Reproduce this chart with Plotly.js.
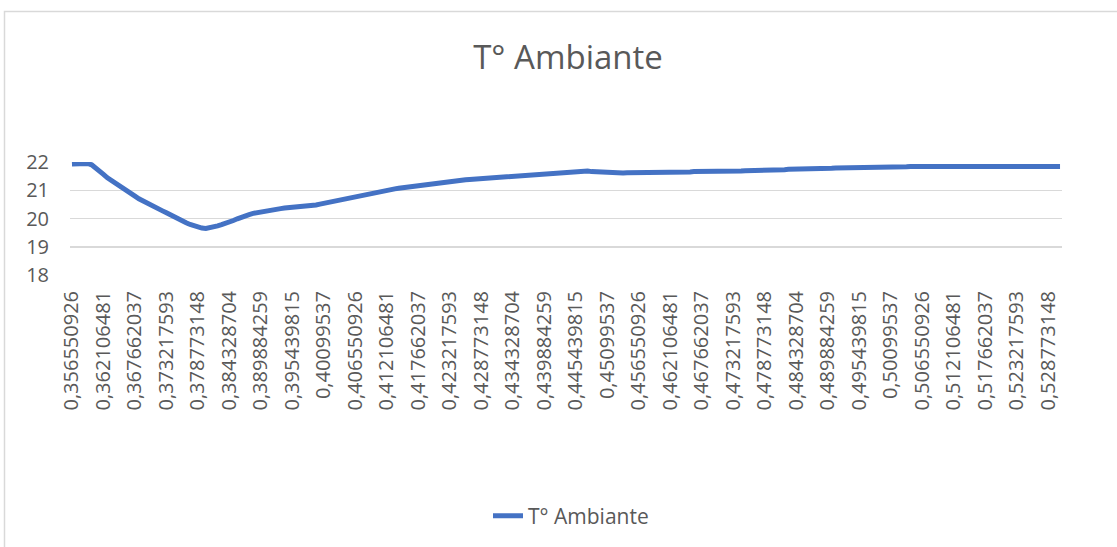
<!DOCTYPE html>
<html>
<head>
<meta charset="utf-8">
<script src="https://cdn.plot.ly/plotly-3.0.1.min.js"></script>
<style>
  html, body { margin: 0; padding: 0; background: #ffffff; }
  #chart { width: 1117px; height: 547px; }
</style>
</head>
<body>
<div id="chart"></div>
<script>
// Category tick labels (every 8th time stamp, day fraction)
const tickLabels = [
  "0,356550926", "0,362106481", "0,367662037", "0,373217593", "0,378773148",
  "0,384328704", "0,389884259", "0,395439815", "0,40099537", "0,406550926",
  "0,412106481", "0,417662037", "0,423217593", "0,428773148", "0,434328704",
  "0,439884259", "0,445439815", "0,45099537", "0,456550926", "0,462106481",
  "0,467662037", "0,473217593", "0,478773148", "0,484328704", "0,489884259",
  "0,495439815", "0,50099537", "0,506550926", "0,512106481", "0,517662037",
  "0,523217593", "0,528773148"
];
const labelEvery = 8;

// Series: T° Ambiante (one value per category)
const seriesName = "T° Ambiante";
const tAmbiante = [
  21.93, 21.93, 21.93, 21.94, 21.95, 21.90, 21.80, 21.68, 21.56, 21.44,
  21.34, 21.24, 21.15, 21.06, 20.97, 20.88, 20.79, 20.70, 20.62, 20.55,
  20.48, 20.41, 20.34, 20.27, 20.20, 20.12, 20.04, 19.97, 19.91, 19.85,
  19.79, 19.74, 19.69, 19.66, 19.65, 19.67, 19.70, 19.74, 19.78, 19.82,
  19.87, 19.93, 19.99, 20.05, 20.10, 20.14, 20.18, 20.21, 20.24, 20.27,
  20.29, 20.31, 20.33, 20.35, 20.37, 20.38, 20.39, 20.41, 20.42, 20.43,
  20.45, 20.46, 20.48, 20.51, 20.54, 20.57, 20.60, 20.63, 20.66, 20.69,
  20.72, 20.75, 20.78, 20.81, 20.84, 20.87, 20.90, 20.94, 20.97, 20.99,
  21.01, 21.03, 21.05, 21.07, 21.09, 21.11, 21.13, 21.15, 21.17, 21.19,
  21.21, 21.22, 21.24, 21.26, 21.28, 21.30, 21.31, 21.33, 21.34, 21.35,
  21.37, 21.38, 21.39, 21.41, 21.42, 21.43, 21.44, 21.45, 21.46, 21.47,
  21.48, 21.50, 21.51, 21.52, 21.53, 21.54, 21.55, 21.56, 21.57, 21.58,
  21.59, 21.60, 21.61, 21.63, 21.64, 21.66, 21.67, 21.68, 21.69, 21.70,
  21.69, 21.68, 21.66, 21.65, 21.64, 21.64, 21.63, 21.62, 21.61, 21.61,
  21.61, 21.62, 21.62, 21.63, 21.63, 21.63, 21.62, 21.62, 21.61, 21.61,
  21.61, 21.61, 21.62, 21.63, 21.64, 21.65, 21.65, 21.65, 21.66, 21.66,
  21.66, 21.67, 21.67, 21.67, 21.66, 21.65, 21.64, 21.65, 21.66, 21.67,
  21.68, 21.69, 21.69, 21.70, 21.70, 21.71, 21.71, 21.72, 21.72, 21.72,
  21.73, 21.73, 21.74, 21.74, 21.74, 21.75, 21.75, 21.76, 21.76, 21.76,
  21.77, 21.77, 21.78, 21.78, 21.79, 21.79, 21.80, 21.80, 21.81, 21.81,
  21.81, 21.81, 21.82, 21.82, 21.82, 21.81, 21.81, 21.82, 21.82, 21.82,
  21.82, 21.83, 21.83, 21.84, 21.84, 21.85, 21.85, 21.86, 21.86, 21.86,
  21.87, 21.87, 21.86, 21.86, 21.86, 21.86, 21.87, 21.87, 21.87, 21.87,
  21.87, 21.87, 21.87, 21.87, 21.87, 21.87, 21.87, 21.87, 21.87, 21.87,
  21.87, 21.87, 21.87, 21.87, 21.87, 21.87, 21.86, 21.86, 21.85, 21.85,
  21.84, 21.84
];
const yTicks = [18, 19, 20, 21, 22];

const W = 1117, H = 547;
const M = { l: 70, r: 55, t: 162, b: 272 };
const plotW = W - M.l - M.r, plotH = H - M.t - M.b;
const px2x = p => (p - M.l) / plotW;
const py2y = p => (H - M.b - p) / plotH;

const xIdx = tAmbiante.map((_, i) => i);
const tickVals = tickLabels.map((_, k) => k * labelEvery);

const textColor = "#595959";
const gridColor = "#D9D9D9";
const font = "Open Sans, Segoe UI, Calibri, DejaVu Sans, sans-serif";

const trace = {
  type: "scatter",
  mode: "lines",
  name: seriesName,
  x: xIdx,
  y: tAmbiante,
  line: { color: "#4472C4", width: 5 },
  hoverinfo: "skip"
};

const layout = {
  width: W, height: H,
  margin: M,
  paper_bgcolor: "#ffffff",
  plot_bgcolor: "#ffffff",
  font: { family: font, color: textColor, size: 20 },
  title: {
    text: "T° Ambiante",
    font: { family: font, size: 33, color: textColor },
    xref: "container", yref: "container",
    x: 568 / W, y: 1 - 57 / H,
    xanchor: "center", yanchor: "middle"
  },
  xaxis: {
    type: "linear",
    range: [-0.5, tAmbiante.length - 0.5],
    tickmode: "array",
    tickvals: tickVals,
    ticktext: tickLabels,
    tickangle: -90,
    ticks: "",
    showgrid: false,
    zeroline: false,
    showline: false,
    ticklabelstandoff: 11,
    tickfont: { family: font, size: 20, color: textColor },
    fixedrange: true
  },
  yaxis: {
    range: [18, 22],
    tickmode: "array",
    tickvals: yTicks,
    ticktext: yTicks.map(String),
    ticks: "",
    showgrid: true,
    gridcolor: gridColor,
    gridwidth: 1.5,
    zeroline: false,
    showline: false,
    ticklabelstandoff: 20,
    tickfont: { family: font, size: 20, color: textColor },
    fixedrange: true
  },
  showlegend: true,
  legend: {
    orientation: "h",
    xref: "container", yref: "container",
    x: 571 / W, y: 1 - 516 / H,
    xanchor: "center", yanchor: "middle",
    font: { family: font, size: 21, color: textColor },
    bgcolor: "rgba(0,0,0,0)"
  },
  shapes: [
    {
      type: "path", xref: "paper", yref: "paper",
      path: "M " + px2x(4.5) + "," + py2y(H + 5) +
            " L " + px2x(4.5) + "," + py2y(11.5) +
            " L " + px2x(W + 5) + "," + py2y(11.5),
      line: { color: gridColor, width: 1.5 },
      layer: "below"
    }
  ]
};

Plotly.newPlot("chart", [trace], layout, { displayModeBar: false, staticPlot: true });
</script>
</body>
</html>
